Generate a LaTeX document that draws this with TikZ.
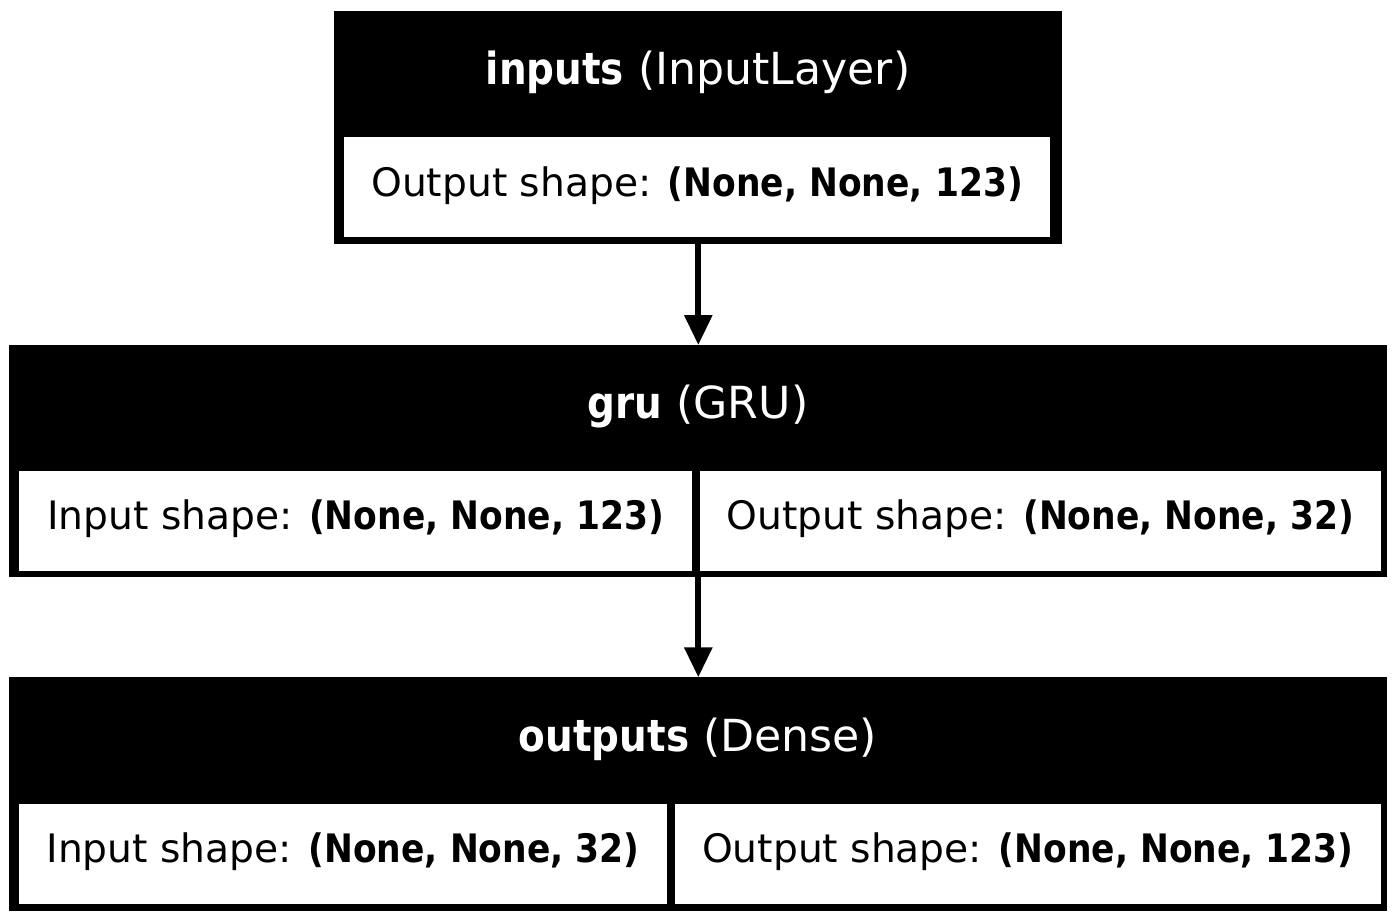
\documentclass[tikz,border=0pt]{standalone}
\usepackage{fontspec}
\setmainfont{DejaVu Sans}
\usetikzlibrary{arrows.meta}
\newcommand{\bnar}[1]{\scalebox{0.88}[1]{\textbf{#1}}}
\tikzset{
  layerbox/.style={fill=black, inner sep=0pt, outer sep=0pt, minimum width=#1},
  cellbox/.style={fill=white, inner sep=0pt, outer sep=0pt, minimum width=#1, minimum height=50pt,
     text height=12pt, text depth=3.3pt, font=\fontsize{19.6}{23}\selectfont},
  headtext/.style={text=white, anchor=base, inner sep=0pt, font=\fontsize{22.1}{26}\selectfont},
  flow/.style={line width=3pt, -{Triangle[length=15pt,width=13.5pt]}}
}
\begin{document}
\begin{tikzpicture}[x=0.5pt,y=-0.5pt]
\useasboundingbox[fill=white] (0,0) rectangle (1397,922);
% inputs
\node[layerbox=364pt, minimum height=116.65pt] (inp) at (698.3,127.35) {};
\node[headtext] (inph) at (698,84) {\bnar{inputs} (InputLayer)};
\node[cellbox=353pt] (inpo) at (697,187.3) {Output shape: \bnar{(None, None, 123)}};
% gru
\node[layerbox=689pt, minimum height=116.15pt] (gru) at (698.3,461.15) {};
\node[headtext] (gruh) at (698,418) {\bnar{gru} (GRU)};
\node[cellbox=336.2pt] (grui) at (355.5,520.7) {Input shape: \bnar{(None, None, 123)}};
\node[cellbox=340.35pt] (gruo) at (1040.35,520.7) {Output shape: \bnar{(None, None, 32)}};
% outputs
\node[layerbox=689pt, minimum height=116.7pt] (out) at (698.3,794) {};
\node[headtext] (outh) at (698,751) {\bnar{outputs} (Dense)};
\node[cellbox=323.7pt] (outi) at (343,854) {Input shape: \bnar{(None, None, 32)}};
\node[cellbox=352.85pt] (outo) at (1027.85,854) {Output shape: \bnar{(None, None, 123)}};
% connectors
\draw[flow] ([yshift=3pt]inp.south) -- (gru.north);
\draw[flow] ([yshift=3pt]gru.south) -- (out.north);
\end{tikzpicture}
\end{document}
